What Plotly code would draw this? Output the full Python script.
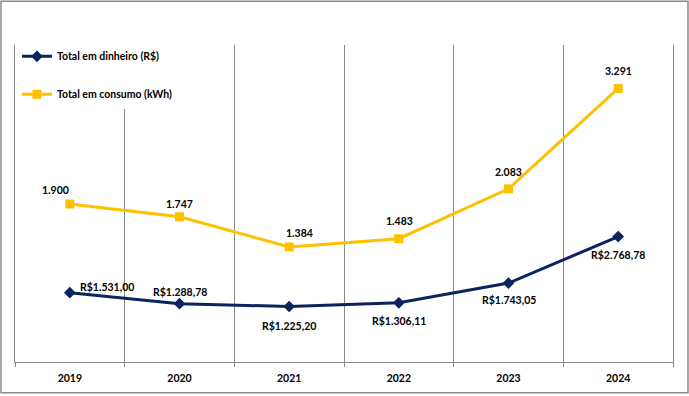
import plotly.graph_objects as go

years = ["2019", "2020", "2021", "2022", "2023", "2024"]
dinheiro = [1531.00, 1288.78, 1225.20, 1306.11, 1743.05, 2768.78]
dinheiro_labels = ["R$1.531,00", "R$1.288,78", "R$1.225,20", "R$1.306,11", "R$1.743,05", "R$2.768,78"]
consumo = [1900, 1747, 1384, 1483, 2083, 3291]
consumo_labels = ["1.900", "1.747", "1.384", "1.483", "2.083", "3.291"]

# label offsets in pixels (style only)
dinheiro_offsets = [(37, 6), (0, 12), (0, -19), (0, -18), (0, -17), (0, -18)]
consumo_offsets = [(-14, 14), (0, 13), (10, 14), (1, 18), (0, 17), (0, 17)]

NAVY = "#0b2460"
GOLD = "#FFC000"
GRID = "#8a8a8a"
FONT = "Lato"
LABEL_FONT = dict(family=FONT, size=10.5, color="black", weight="bold")

fig = go.Figure()
fig.add_trace(go.Scatter(
    x=years, y=dinheiro, name="Total em dinheiro (R$)", mode="lines+markers",
    line=dict(color=NAVY, width=3), marker=dict(symbol="diamond", size=9, color=NAVY),
    legendgroup="a", cliponaxis=False,
))
fig.add_trace(go.Scatter(
    x=years, y=consumo, name="Total em consumo (kWh)", mode="lines+markers",
    line=dict(color=GOLD, width=3), marker=dict(symbol="square", size=9, color=GOLD),
    yaxis="y2", legendgroup="b", cliponaxis=False,
))

# category axis: annotations are placed by category index
for i, (y, t, (dx, dy)) in enumerate(zip(dinheiro, dinheiro_labels, dinheiro_offsets)):
    fig.add_annotation(x=i, y=y, xref="x", yref="y", text=t, showarrow=False,
                       xshift=dx, yshift=dy, font=LABEL_FONT)
for i, (y, t, (dx, dy)) in enumerate(zip(consumo, consumo_labels, consumo_offsets)):
    fig.add_annotation(x=i, y=y, xref="x", yref="y2", text=t, showarrow=False,
                       xshift=dx, yshift=dy, font=LABEL_FONT)

fig.update_layout(
    width=689, height=396,
    margin=dict(l=15, r=16, t=45, b=32),
    paper_bgcolor="white", plot_bgcolor="white",
    font=dict(family=FONT, size=10.5, color="black", weight="bold"),
    xaxis=dict(
        type="category", range=[-0.5, 5.5], tickson="boundaries",
        showgrid=True, gridcolor=GRID, gridwidth=1,
        ticks="outside", ticklen=4, tickcolor=GRID,
        showline=True, linecolor=GRID, linewidth=1,
        ticklabelstandoff=6,
        tickfont=dict(family=FONT, size=10.5, color="black", weight="bold"),
        fixedrange=True,
    ),
    yaxis=dict(range=[0, 7000], showgrid=False, zeroline=False, showticklabels=False,
               showline=True, linecolor=GRID, linewidth=1, fixedrange=True),
    yaxis2=dict(range=[0, 3813], overlaying="y", side="right", showgrid=False,
                zeroline=False, showticklabels=False,
                showline=True, linecolor=GRID, linewidth=1, fixedrange=True),
    legend=dict(x=0.003, y=1.01, xanchor="left", yanchor="top", bgcolor="white",
                tracegroupgap=19, traceorder="grouped",
                font=dict(family=FONT, size=10.5, color="black", weight="bold")),
    showlegend=True,
)

fig.add_shape(type="rect", xref="paper", yref="paper",
              x0=(1 - 15) / 658, x1=(688 - 15) / 658,
              y0=(364 - 395) / 319, y1=(364 - 1) / 319,
              line=dict(color=GRID, width=1.5), fillcolor="rgba(0,0,0,0)", layer="above")

fig.write_html("out.html", config={"displayModeBar": False},
               post_script="document.body.style.margin='0';")
